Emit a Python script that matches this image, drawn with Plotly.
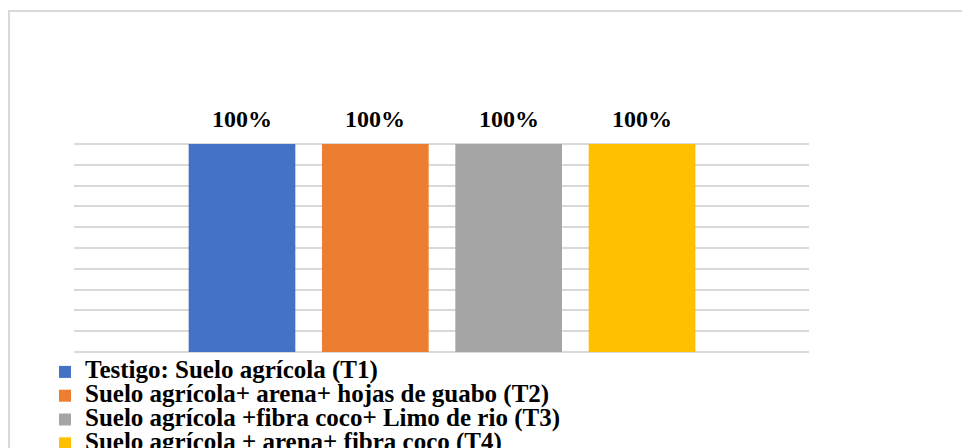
import plotly.graph_objects as go

# Treatments and their survival percentage
tratamientos = [
    "Testigo: Suelo agrícola (T1)",
    "Suelo agrícola+ arena+ hojas de guabo (T2)",
    "Suelo agrícola +fibra coco+ Limo de rio (T3)",
    "Suelo agrícola + arena+ fibra coco (T4)",
]
porcentajes = [1.0, 1.0, 1.0, 1.0]
colores = ["#4472C4", "#ED7D31", "#A5A5A5", "#FFC000"]

W, H = 962, 448
ML, MR, MT, MB = 74, 153, 142, 96
plot_w = W - ML - MR
plot_h = H - MT - MB
Y_MAX = 1.01

SERIF = "Liberation Serif, Times New Roman, serif"

fig = go.Figure()
for nombre, valor, color in zip(tratamientos, porcentajes, colores):
    fig.add_trace(go.Bar(
        x=[nombre], y=[valor], name=f"<span style='font-size:25px'>{nombre}</span>",
        marker=dict(color=color, line=dict(width=0)),
        width=0.8, hoverinfo="skip",
    ))
    fig.add_annotation(
        x=nombre, y=valor, xref="x", yref="y",
        text=f"{valor:.0%}", showarrow=False,
        yanchor="bottom", yshift=10,
        font=dict(family=SERIF, size=24, color="black", weight="bold"),
    )

# Outer chart frame: only the left and top edges fall inside the page
fx0, fy_top, fy_bot, fx1 = 9 - ML, MT - 11, -(plot_h + MB + 40), W - ML + 40
fig.add_shape(
    type="path", xref="paper", yref="paper",
    xsizemode="pixel", ysizemode="pixel", xanchor=0, yanchor=1,
    path=f"M{fx0},{fy_bot} L{fx0},{fy_top} L{fx1},{fy_top}",
    line=dict(color="#d9d9d9", width=2), layer="below",
)

fig.update_layout(
    width=W, height=H,
    margin=dict(l=ML, r=MR, t=MT, b=MB, autoexpand=False),
    paper_bgcolor="white", plot_bgcolor="white",
    barmode="overlay",
    showlegend=True,
    legend=dict(
        x=(45 - ML) / plot_w, y=-(355 - (MT + plot_h)) / plot_h,
        xanchor="left", yanchor="top",
        font=dict(family=SERIF, size=16, color="black", weight="bold"),
        bgcolor="rgba(0,0,0,0)", traceorder="normal",
        itemclick=False, itemdoubleclick=False,
    ),
    xaxis=dict(
        type="category", range=[-1.26, 4.2525],
        showticklabels=False, showgrid=False, zeroline=False, showline=False,
        ticks="",
    ),
    yaxis=dict(
        range=[0, Y_MAX], tick0=0, dtick=0.1, showticklabels=False, ticks="",
        showgrid=True, gridcolor="#d9d9d9", gridwidth=2,
        zeroline=True, zerolinecolor="#d9d9d9", zerolinewidth=2, showline=False,
    ),
)

fig.write_html("out.html")
